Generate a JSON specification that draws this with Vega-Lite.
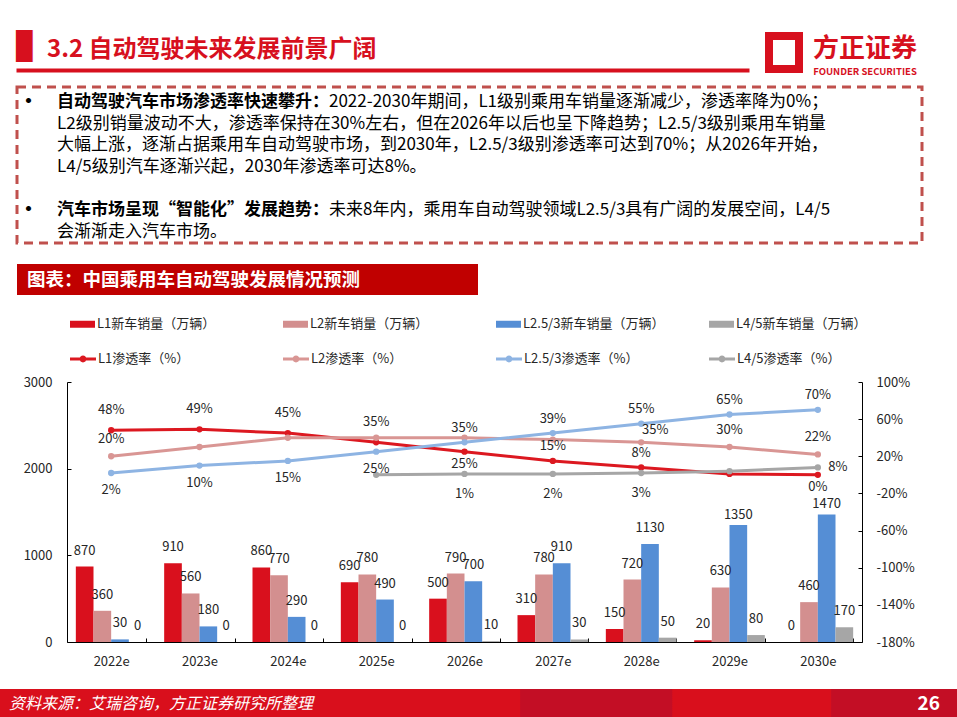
{
  "$schema": "https://vega.github.io/schema/vega-lite/v6.json",
  "padding": 0,
  "background": "white",
  "spacing": 0,
  "bounds": "full",
  "config": {
    "font": "Noto Sans CJK SC",
    "view": {"stroke": null},
    "concat": {"spacing": 0}
  },
  "datasets": {
    "sales": [
      {"year": "2022e", "series": "L1新车销量（万辆）", "sales": 870},
      {"year": "2023e", "series": "L1新车销量（万辆）", "sales": 910},
      {"year": "2024e", "series": "L1新车销量（万辆）", "sales": 860},
      {"year": "2025e", "series": "L1新车销量（万辆）", "sales": 690},
      {"year": "2026e", "series": "L1新车销量（万辆）", "sales": 500},
      {"year": "2027e", "series": "L1新车销量（万辆）", "sales": 310},
      {"year": "2028e", "series": "L1新车销量（万辆）", "sales": 150},
      {"year": "2029e", "series": "L1新车销量（万辆）", "sales": 20},
      {"year": "2030e", "series": "L1新车销量（万辆）", "sales": 0},
      {"year": "2022e", "series": "L2新车销量（万辆）", "sales": 360},
      {"year": "2023e", "series": "L2新车销量（万辆）", "sales": 560},
      {"year": "2024e", "series": "L2新车销量（万辆）", "sales": 770},
      {"year": "2025e", "series": "L2新车销量（万辆）", "sales": 780},
      {"year": "2026e", "series": "L2新车销量（万辆）", "sales": 790},
      {"year": "2027e", "series": "L2新车销量（万辆）", "sales": 780},
      {"year": "2028e", "series": "L2新车销量（万辆）", "sales": 720},
      {"year": "2029e", "series": "L2新车销量（万辆）", "sales": 630},
      {"year": "2030e", "series": "L2新车销量（万辆）", "sales": 460},
      {"year": "2022e", "series": "L2.5/3新车销量（万辆）", "sales": 30},
      {"year": "2023e", "series": "L2.5/3新车销量（万辆）", "sales": 180},
      {"year": "2024e", "series": "L2.5/3新车销量（万辆）", "sales": 290},
      {"year": "2025e", "series": "L2.5/3新车销量（万辆）", "sales": 490},
      {"year": "2026e", "series": "L2.5/3新车销量（万辆）", "sales": 700},
      {"year": "2027e", "series": "L2.5/3新车销量（万辆）", "sales": 910},
      {"year": "2028e", "series": "L2.5/3新车销量（万辆）", "sales": 1130},
      {"year": "2029e", "series": "L2.5/3新车销量（万辆）", "sales": 1350},
      {"year": "2030e", "series": "L2.5/3新车销量（万辆）", "sales": 1470},
      {"year": "2022e", "series": "L4/5新车销量（万辆）", "sales": 0},
      {"year": "2023e", "series": "L4/5新车销量（万辆）", "sales": 0},
      {"year": "2024e", "series": "L4/5新车销量（万辆）", "sales": 0},
      {"year": "2025e", "series": "L4/5新车销量（万辆）", "sales": 0},
      {"year": "2026e", "series": "L4/5新车销量（万辆）", "sales": 10},
      {"year": "2027e", "series": "L4/5新车销量（万辆）", "sales": 30},
      {"year": "2028e", "series": "L4/5新车销量（万辆）", "sales": 50},
      {"year": "2029e", "series": "L4/5新车销量（万辆）", "sales": 80},
      {"year": "2030e", "series": "L4/5新车销量（万辆）", "sales": 170}
    ],
    "rates": [
      {"year": "2022e", "level": "L1", "name": "L1渗透率（%）", "rate": 48, "label": "48%"},
      {"year": "2023e", "level": "L1", "name": "L1渗透率（%）", "rate": 49, "label": "49%"},
      {"year": "2024e", "level": "L1", "name": "L1渗透率（%）", "rate": 45, "label": "45%"},
      {"year": "2025e", "level": "L1", "name": "L1渗透率（%）", "rate": 35, "label": "35%"},
      {"year": "2026e", "level": "L1", "name": "L1渗透率（%）", "rate": 25, "label": "25%"},
      {"year": "2027e", "level": "L1", "name": "L1渗透率（%）", "rate": 15, "label": "15%"},
      {"year": "2028e", "level": "L1", "name": "L1渗透率（%）", "rate": 8, "label": "8%"},
      {"year": "2029e", "level": "L1", "name": "L1渗透率（%）", "rate": 1},
      {"year": "2030e", "level": "L1", "name": "L1渗透率（%）", "rate": 0, "label": "0%"},
      {"year": "2022e", "level": "L2", "name": "L2渗透率（%）", "rate": 20, "label": "20%"},
      {"year": "2023e", "level": "L2", "name": "L2渗透率（%）", "rate": 30},
      {"year": "2024e", "level": "L2", "name": "L2渗透率（%）", "rate": 40},
      {"year": "2025e", "level": "L2", "name": "L2渗透率（%）", "rate": 40},
      {"year": "2026e", "level": "L2", "name": "L2渗透率（%）", "rate": 40},
      {"year": "2027e", "level": "L2", "name": "L2渗透率（%）", "rate": 38},
      {"year": "2028e", "level": "L2", "name": "L2渗透率（%）", "rate": 35, "label": "35%"},
      {"year": "2029e", "level": "L2", "name": "L2渗透率（%）", "rate": 30, "label": "30%"},
      {"year": "2030e", "level": "L2", "name": "L2渗透率（%）", "rate": 22, "label": "22%"},
      {"year": "2022e", "level": "L2.5/3", "name": "L2.5/3渗透率（%）", "rate": 2, "label": "2%"},
      {"year": "2023e", "level": "L2.5/3", "name": "L2.5/3渗透率（%）", "rate": 10, "label": "10%"},
      {"year": "2024e", "level": "L2.5/3", "name": "L2.5/3渗透率（%）", "rate": 15, "label": "15%"},
      {"year": "2025e", "level": "L2.5/3", "name": "L2.5/3渗透率（%）", "rate": 25, "label": "25%"},
      {"year": "2026e", "level": "L2.5/3", "name": "L2.5/3渗透率（%）", "rate": 35, "label": "35%"},
      {"year": "2027e", "level": "L2.5/3", "name": "L2.5/3渗透率（%）", "rate": 45, "label": "39%"},
      {"year": "2028e", "level": "L2.5/3", "name": "L2.5/3渗透率（%）", "rate": 55, "label": "55%"},
      {"year": "2029e", "level": "L2.5/3", "name": "L2.5/3渗透率（%）", "rate": 65, "label": "65%"},
      {"year": "2030e", "level": "L2.5/3", "name": "L2.5/3渗透率（%）", "rate": 70, "label": "70%"},
      {"year": "2025e", "level": "L4/5", "name": "L4/5渗透率（%）", "rate": 0},
      {"year": "2026e", "level": "L4/5", "name": "L4/5渗透率（%）", "rate": 1, "label": "1%"},
      {"year": "2027e", "level": "L4/5", "name": "L4/5渗透率（%）", "rate": 1, "label": "2%"},
      {"year": "2028e", "level": "L4/5", "name": "L4/5渗透率（%）", "rate": 2, "label": "3%"},
      {"year": "2029e", "level": "L4/5", "name": "L4/5渗透率（%）", "rate": 4},
      {"year": "2030e", "level": "L4/5", "name": "L4/5渗透率（%）", "rate": 8, "label": "8%"}
    ],
    "notes": [
      {"line": 1, "bold": "自动驾驶汽车市场渗透率快速攀升：", "text": "2022-2030年期间，L1级别乘用车销量逐渐减少，渗透率降为0%；"},
      {"line": 2, "text": "L2级别销量波动不大，渗透率保持在30%左右，但在2026年以后也呈下降趋势；L2.5/3级别乘用车销量"},
      {"line": 3, "text": "大幅上涨，逐渐占据乘用车自动驾驶市场，到2030年，L2.5/3级别渗透率可达到70%；从2026年开始，"},
      {"line": 4, "text": "L4/5级别汽车逐渐兴起，2030年渗透率可达8%。"},
      {"line": 6, "bold": "汽车市场呈现“智能化”发展趋势：", "text": "未来8年内，乘用车自动驾驶领域L2.5/3具有广阔的发展空间，L4/5"},
      {"line": 7, "text": "会渐渐走入汽车市场。"}
    ]
  },
  "vconcat": [
    {"width": 957, "height": 32, "view": {"fill": "white"}, "data": {"values": []}, "mark": "point"},
    {
      "hconcat": [
        {"width": 16, "height": 34, "data": {"values": []}, "mark": "point"},
        {
          "width": 733, "height": 34,
          "data": {"values": [{"t": "3.2 自动驾驶未来发展前景广阔"}]},
          "encoding": {
            "x": {"datum": 0, "type": "quantitative", "scale": {"domain": [0, 1]}, "axis": {"domain": true, "domainColor": "#D7101E", "domainWidth": 4, "ticks": false, "labels": false, "grid": false, "title": null}}
          },
          "layer": [
            {
              "mark": {"type": "text", "align": "left", "baseline": "middle", "font": "DejaVu Sans Mono", "fontSize": 27, "color": "#D7101E", "dy": -6},
              "encoding": {"text": {"value": "█"}}
            },
            {
              "mark": {"type": "text", "align": "left", "baseline": "middle", "dx": 31, "dy": -3, "fontSize": 24, "fontWeight": "bold", "color": "#D7101E"},
              "encoding": {"text": {"field": "t"}}
            }
          ]
        },
        {"width": 20, "height": 1, "data": {"values": []}, "mark": "point"},
        {"width": 30, "height": 33, "view": {"stroke": "#D7101E", "strokeWidth": 8, "fill": null}, "data": {"values": []}, "mark": "point"},
        {"width": 11, "height": 1, "data": {"values": []}, "mark": "point"},
        {
          "width": 110, "height": 34,
          "data": {"values": [{"cn": "方正证券", "en": "FOUNDER SECURITIES"}]},
          "layer": [
            {
              "mark": {"type": "text", "align": "center", "baseline": "middle", "dy": -4.5, "fontSize": 26, "fontWeight": "bold", "color": "#D7101E"},
              "encoding": {"text": {"field": "cn"}}
            },
            {
              "mark": {"type": "text", "align": "center", "baseline": "middle", "dy": 18.5, "fontSize": 9.5, "fontWeight": "bold", "color": "#D7101E"},
              "encoding": {"text": {"field": "en"}}
            }
          ]
        }
      ],
      "bounds": "flush", "spacing": 0
    },
    {"width": 1, "height": 9, "data": {"values": []}, "mark": "point"},
    {
      "hconcat": [
        {"width": 17, "height": 156, "data": {"values": []}, "mark": "point"},
        {
          "width": 905, "height": 156,
          "view": {"stroke": "#C0504D", "strokeWidth": 3, "strokeDash": [9, 6], "fill": null},
          "data": {"name": "notes"},
          "encoding": {
            "y": {"field": "line", "type": "ordinal", "axis": null, "scale": {"type": "point", "domain": [1, 2, 3, 4, 5, 6, 7], "padding": 0.594, "align": 0.58, "round": false}},
            "x": {"datum": 0, "type": "quantitative", "scale": {"domain": [0, 1]}, "axis": null}
          },
          "layer": [
            {
              "transform": [{"filter": "datum.bold"}],
              "mark": {"type": "text", "align": "center", "baseline": "middle", "dx": 11.5, "fontSize": 20, "fontWeight": "bold", "color": "#000"},
              "encoding": {"text": {"value": "•"}}
            },
            {
              "transform": [{"filter": "datum.bold"}],
              "mark": {"type": "text", "align": "left", "baseline": "middle", "dx": 40, "fontSize": 17, "fontWeight": "bold", "color": "#000"},
              "encoding": {"text": {"field": "bold"}}
            },
            {
              "transform": [{"filter": "!datum.bold"}],
              "mark": {"type": "text", "align": "left", "baseline": "middle", "dx": 40, "fontSize": 17, "color": "#000"},
              "encoding": {"text": {"field": "text"}}
            },
            {
              "transform": [{"filter": "datum.bold"}],
              "mark": {"type": "text", "align": "left", "baseline": "middle", "dx": 312, "fontSize": 17, "color": "#000"},
              "encoding": {"text": {"field": "text"}}
            }
          ]
        }
      ],
      "bounds": "flush", "spacing": 0
    },
    {"width": 1, "height": 19, "data": {"values": []}, "mark": "point"},
    {
      "hconcat": [
        {"width": 17, "height": 31, "data": {"values": []}, "mark": "point"},
        {
          "width": 461, "height": 31,
          "view": {"fill": "#C00000"},
          "data": {"values": [{"t": "图表：中国乘用车自动驾驶发展情况预测"}]},
          "mark": {"type": "text", "align": "left", "baseline": "middle", "dx": 10, "fontSize": 18.5, "fontWeight": "bold", "color": "white"},
          "encoding": {
            "text": {"field": "t"},
            "x": {"datum": 0, "type": "quantitative", "scale": {"domain": [0, 1]}, "axis": null}
          }
        }
      ],
      "bounds": "flush", "spacing": 0
    },
    {"width": 1, "height": 80.5, "data": {"values": []}, "mark": "point"},
    {
      "hconcat": [
        {"width": 67, "height": 260, "data": {"values": []}, "mark": "point"},
        {
          "width": 795, "height": 260,
          "layer": [
            {
              "data": {"name": "sales"},
              "encoding": {
                "x": {
                  "field": "year", "type": "ordinal", "title": null,
                  "scale": {"paddingInner": 0.2, "paddingOuter": 0.1},
                  "axis": {"labelAngle": 0, "labelFontSize": 13, "labelColor": "#262626", "domainColor": "#000", "tickColor": "#000", "tickSize": -4, "tickBand": "extent", "labelPadding": 17}
                },
                "xOffset": {
                  "field": "series", "type": "nominal",
                  "sort": ["L1新车销量（万辆）", "L2新车销量（万辆）", "L2.5/3新车销量（万辆）", "L4/5新车销量（万辆）"],
                  "scale": {"paddingInner": 0, "paddingOuter": 0}
                },
                "y": {
                  "field": "sales", "type": "quantitative", "title": null,
                  "scale": {"domain": [0, 3000], "nice": false},
                  "axis": {"orient": "left", "values": [0, 1000, 2000, 3000], "format": "d", "grid": false, "labelFontSize": 13, "labelColor": "#262626", "domainColor": "#000", "tickColor": "#000", "tickSize": -4, "labelPadding": 19}
                }
              },
              "layer": [
                {
                  "mark": {"type": "bar"},
                  "encoding": {
                    "color": {
                      "field": "series", "type": "nominal",
                      "scale": {
                        "domain": ["L1新车销量（万辆）", "L2新车销量（万辆）", "L2.5/3新车销量（万辆）", "L4/5新车销量（万辆）"],
                        "range": ["#D9101D", "#D38F8F", "#558ED5", "#A6A6A6"]
                      },
                      "legend": {
                        "orient": "none", "legendX": 70, "legendY": 311.5, "direction": "horizontal", "columns": 4, "gridAlign": "all", "columnPadding": 44,
                        "title": null, "padding": 0, "symbolType": "M-1,-0.28H1V0.28H-1Z", "symbolSize": 625, "symbolStrokeWidth": 0,
                        "labelFontSize": 13, "labelColor": "#262626", "labelOffset": 2, "labelLimit": 300
                      }
                    }
                  }
                },
                {
                  "transform": [{"filter": "datum.sales < 1300"}],
                  "mark": {"type": "text", "dy": -16, "baseline": "middle", "fontSize": 13, "color": "#262626"},
                  "encoding": {"text": {"field": "sales", "type": "quantitative"}}
                },
                {
                  "transform": [{"filter": "datum.sales >= 1300"}],
                  "mark": {"type": "text", "dy": -10.5, "baseline": "middle", "fontSize": 13, "color": "#262626"},
                  "encoding": {"text": {"field": "sales", "type": "quantitative"}}
                }
              ]
            },
            {
              "data": {"name": "rates"},
              "encoding": {
                "x": {"field": "year", "type": "ordinal", "title": null},
                "y": {
                  "field": "rate", "type": "quantitative", "title": null,
                  "scale": {"domain": [-180, 100], "nice": false, "zero": false},
                  "axis": {"orient": "right", "values": [-180, -140, -100, -60, -20, 20, 60, 100], "labelExpr": "datum.value + '%'", "grid": false, "labelFontSize": 13, "labelColor": "#262626", "domainColor": "#000", "tickColor": "#000", "tickSize": -4, "labelPadding": 18}
                }
              },
              "layer": [
                {
                  "mark": {"type": "line", "strokeWidth": 3},
                  "encoding": {
                    "stroke": {
                      "field": "name", "type": "nominal",
                      "scale": {
                        "domain": ["L1渗透率（%）", "L2渗透率（%）", "L2.5/3渗透率（%）", "L4/5渗透率（%）"],
                        "range": ["#DC1820", "#D99694", "#8EB4E3", "#A6A6A6"]
                      },
                      "legend": {
                        "orient": "none", "legendX": 70, "legendY": 346, "direction": "horizontal", "columns": 4, "gridAlign": "all", "columnPadding": 70,
                        "title": null, "padding": 0,
                        "symbolType": "M-1,-0.12H1V0.12H-1Z M0.26,0A0.26,0.26,0,1,1,-0.26,0A0.26,0.26,0,1,1,0.26,0Z",
                        "symbolSize": 676, "symbolStrokeWidth": 0,
                        "labelFontSize": 13, "labelColor": "#262626", "labelOffset": 2, "labelLimit": 300
                      }
                    }
                  }
                },
                {
                  "mark": {"type": "point", "filled": true, "size": 40, "opacity": 1},
                  "encoding": {
                    "fill": {
                      "field": "name", "type": "nominal",
                      "scale": {
                        "domain": ["L1渗透率（%）", "L2渗透率（%）", "L2.5/3渗透率（%）", "L4/5渗透率（%）"],
                        "range": ["#DC1820", "#D99694", "#8EB4E3", "#A6A6A6"]
                      },
                      "legend": {
                        "orient": "none", "legendX": 70, "legendY": 346, "direction": "horizontal", "columns": 4, "gridAlign": "all", "columnPadding": 70,
                        "title": null, "padding": 0,
                        "symbolType": "M-1,-0.12H1V0.12H-1Z M0.26,0A0.26,0.26,0,1,1,-0.26,0A0.26,0.26,0,1,1,0.26,0Z",
                        "symbolSize": 676, "symbolStrokeWidth": 0,
                        "labelFontSize": 13, "labelColor": "#262626", "labelOffset": 2, "labelLimit": 300
                      }
                    }
                  }
                },
                {
                  "transform": [{"filter": "datum.label != null && datum.level == 'L1' && datum.year <= '2025e'"}],
                  "mark": {"type": "text", "dy": -20, "baseline": "middle", "fontSize": 13, "color": "#262626"},
                  "encoding": {"text": {"field": "label"}}
                },
                {
                  "transform": [{"filter": "datum.label != null && datum.level == 'L1' && (datum.year == '2027e' || datum.year == '2028e')"}],
                  "mark": {"type": "text", "dy": -14.5, "baseline": "middle", "fontSize": 13, "color": "#262626"},
                  "encoding": {"text": {"field": "label"}}
                },
                {
                  "transform": [{"filter": "datum.label != null && datum.level == 'L1' && (datum.year == '2026e' || datum.year == '2030e')"}],
                  "mark": {"type": "text", "dy": 12, "baseline": "middle", "fontSize": 13, "color": "#262626"},
                  "encoding": {"text": {"field": "label"}}
                },
                {
                  "transform": [{"filter": "datum.label != null && datum.level == 'L2' && datum.year != '2028e'"}],
                  "mark": {"type": "text", "dy": -17, "baseline": "middle", "fontSize": 13, "color": "#262626"},
                  "encoding": {"text": {"field": "label"}}
                },
                {
                  "transform": [{"filter": "datum.label != null && datum.level == 'L2' && datum.year == '2028e'"}],
                  "mark": {"type": "text", "dy": -12, "dx": 14, "baseline": "middle", "fontSize": 13, "color": "#262626"},
                  "encoding": {"text": {"field": "label"}}
                },
                {
                  "transform": [{"filter": "datum.label != null && datum.level == 'L2.5/3' && datum.year <= '2025e'"}],
                  "mark": {"type": "text", "dy": 17, "baseline": "middle", "fontSize": 13, "color": "#262626"},
                  "encoding": {"text": {"field": "label"}}
                },
                {
                  "transform": [{"filter": "datum.label != null && datum.level == 'L2.5/3' && datum.year >= '2026e'"}],
                  "mark": {"type": "text", "dy": -14.5, "baseline": "middle", "fontSize": 13, "color": "#262626"},
                  "encoding": {"text": {"field": "label"}}
                },
                {
                  "transform": [{"filter": "datum.label != null && datum.level == 'L4/5' && datum.year != '2030e'"}],
                  "mark": {"type": "text", "dy": 20, "baseline": "middle", "fontSize": 13, "color": "#262626"},
                  "encoding": {"text": {"field": "label"}}
                },
                {
                  "transform": [{"filter": "datum.label != null && datum.level == 'L4/5' && datum.year == '2030e'"}],
                  "mark": {"type": "text", "dx": 20, "baseline": "middle", "fontSize": 13, "color": "#262626"},
                  "encoding": {"text": {"field": "label"}}
                }
              ]
            }
          ],
          "resolve": {"scale": {"y": "independent"}}
        }
      ],
      "bounds": "flush", "spacing": 0
    },
    {"width": 1, "height": 20.5, "data": {"values": []}, "mark": "point"},
    {
      "width": 957, "height": 29,
      "view": {"fill": "#D50F1E"},
      "data": {"values": [{"src": "资料来源：艾瑞咨询，方正证券研究所整理", "page": "26"}]},
      "layer": [
        {
          "mark": {
            "type": "rect",
            "color": {
              "gradient": "linear", "x1": 0, "y1": 0, "x2": 1, "y2": 0,
              "stops": [
                {"offset": 0, "color": "#D90F1C"},
                {"offset": 0.543, "color": "#D90F1C"},
                {"offset": 0.544, "color": "#C30E25"},
                {"offset": 0.702, "color": "#C30E25"},
                {"offset": 0.703, "color": "#D90F1C"},
                {"offset": 0.868, "color": "#D90F1C"},
                {"offset": 0.869, "color": "#C30E25"},
                {"offset": 1, "color": "#C30E25"}
              ]
            }
          }
        },
        {
          "mark": {"type": "text", "align": "left", "baseline": "middle", "dx": 9, "fontSize": 16, "fontStyle": "italic", "color": "white"},
          "encoding": {
            "text": {"field": "src"},
            "x": {"datum": 0, "type": "quantitative", "scale": {"domain": [0, 1]}, "axis": null}
          }
        },
        {
          "mark": {"type": "text", "align": "right", "baseline": "middle", "dx": -17, "fontSize": 19, "fontWeight": "bold", "color": "white"},
          "encoding": {
            "text": {"field": "page"},
            "x": {"datum": 1, "type": "quantitative", "scale": {"domain": [0, 1]}, "axis": null}
          }
        }
      ]
    }
  ]
}
